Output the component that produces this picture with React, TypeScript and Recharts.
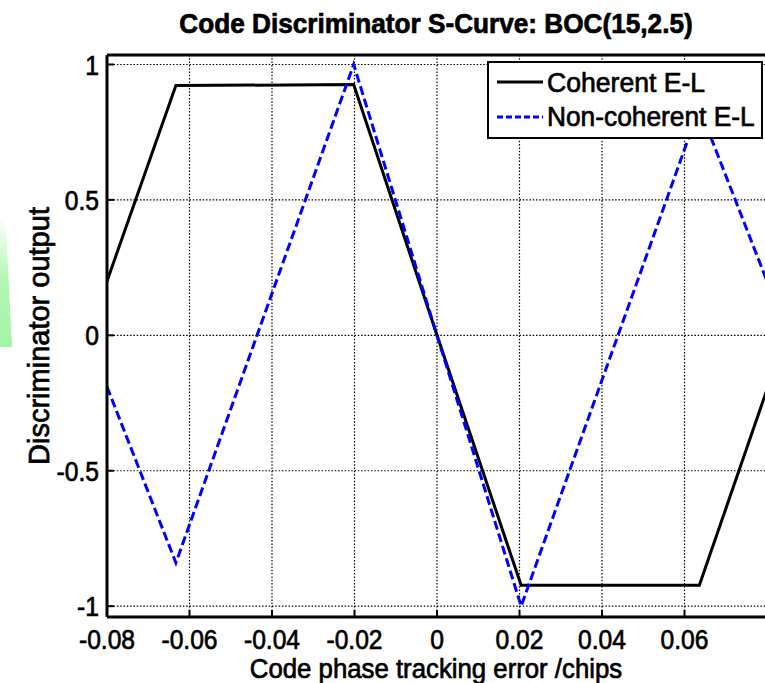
import React from 'react';
import { LineChart, Line, XAxis, YAxis, CartesianGrid } from 'recharts';

// S-curve samples (code phase error in chips -> discriminator output)
const trackingError = [-0.08, -0.0633, -0.0202, 0, 0.0204, 0.0636, 0.08];
const coherentEL = [0.2, 0.922, 0.926, 0, -0.923, -0.923, -0.2];
const nonCoherentEL = [-0.19, -0.84, 1.0, 0, -1.0, 0.84, 0.2];

const xTicks = [-0.08, -0.06, -0.04, -0.02, 0, 0.02, 0.04, 0.06];
const yTicks = [-1, -0.5, 0, 0.5, 1];

const FONT = "'Liberation Sans', Arial, Helvetica, sans-serif";

const data = trackingError.map((x, i) => ({
  x,
  coherent: coherentEL[i],
  nonCoherent: nonCoherentEL[i],
}));

const axisLine = { stroke: '#000', strokeWidth: 3 };
const tickLine = { stroke: '#000', strokeWidth: 2 };

// narrow, heavy text like the exported figure
const textProps = {
  fontFamily: FONT,
  fill: '#000',
  stroke: '#000',
  strokeWidth: 0.7,
};

const XTick = ({ x, y, payload }: any) => (
  <text
    {...textProps}
    fontSize={28}
    textAnchor="middle"
    dy="0.71em"
    transform={`translate(${x},${y}) scale(0.88,1)`}
  >
    {String(payload.value)}
  </text>
);

const YTick = ({ x, y, payload }: any) => (
  <text
    {...textProps}
    fontSize={28}
    textAnchor="end"
    dy="0.36em"
    transform={`translate(${x},${y}) scale(0.88,1)`}
  >
    {String(payload.value)}
  </text>
);

const XLabel = ({ viewBox }: any) => (
  <text
    {...textProps}
    fontSize={27}
    textAnchor="middle"
    transform={`translate(${viewBox.x + viewBox.width / 2 - 1},${viewBox.y + viewBox.height - 5}) scale(0.955,1)`}
  >
    Code phase tracking error /chips
  </text>
);

const YLabel = ({ viewBox }: any) => (
  <text
    {...textProps}
    fontSize={29}
    textAnchor="middle"
    transform={`translate(49,${viewBox.y + viewBox.height / 2}) rotate(-90)`}
  >
    Discriminator output
  </text>
);

const LegendBox: React.FC = () => (
  <svg
    width={277}
    height={79}
    style={{ position: 'absolute', left: 487, top: 61 }}
  >
    <rect x={1} y={1} width={274} height={76} fill="#fff" stroke="#000" strokeWidth={2} />
    <line x1={10} y1={21} x2={56} y2={21} stroke="#000" strokeWidth={3} />
    <text {...textProps} x={0} y={0} fontSize={28} transform="translate(60,31) scale(0.95,1)">
      Coherent E-L
    </text>
    <line x1={10} y1={56} x2={56} y2={56} stroke="#0000ff" strokeWidth={3} strokeDasharray="6 3" />
    <text {...textProps} x={0} y={0} fontSize={28} transform="translate(60,65) scale(0.94,1)">
      Non-coherent E-L
    </text>
  </svg>
);

const App: React.FC = () => {
  return (
    <div
      style={{
        position: 'absolute',
        left: 0,
        top: 0,
        width: 765,
        height: 683,
        overflow: 'hidden',
        background: '#fff',
      }}
    >
      <LineChart
        width={775}
        height={683}
        data={data}
        margin={{ top: 54, right: 7, bottom: 0, left: 0 }}
      >
        <CartesianGrid stroke="#000" strokeWidth={1.2} strokeDasharray="1.5 1.8" />
        <XAxis
          dataKey="x"
          type="number"
          domain={[-0.08, 0.08]}
          ticks={xTicks}
          interval={0}
          height={66}
          tickSize={-7}
          tickMargin={19}
          axisLine={axisLine}
          tickLine={tickLine}
          tick={<XTick />}
          label={<XLabel />}
        />
        <XAxis
          xAxisId="top"
          orientation="top"
          dataKey="x"
          type="number"
          domain={[-0.08, 0.08]}
          ticks={xTicks}
          interval={0}
          height={1}
          tickSize={-7}
          axisLine={axisLine}
          tickLine={tickLine}
          tick={false}
        />
        <YAxis
          type="number"
          domain={[-1.04, 1.035]}
          ticks={yTicks}
          interval={0}
          width={107}
          tickSize={-7}
          tickMargin={15}
          axisLine={axisLine}
          tickLine={tickLine}
          tick={<YTick />}
          label={<YLabel />}
        />
        <YAxis
          yAxisId="right"
          orientation="right"
          type="number"
          domain={[-1.04, 1.035]}
          ticks={yTicks}
          interval={0}
          width={1}
          tickSize={-7}
          axisLine={axisLine}
          tickLine={tickLine}
          tick={false}
        />
        <Line
          dataKey="coherent"
          name="Coherent E-L"
          stroke="#000"
          strokeWidth={3}
          dot={false}
          isAnimationActive={false}
        />
        <Line
          dataKey="nonCoherent"
          name="Non-coherent E-L"
          stroke="#0000ff"
          strokeWidth={3}
          strokeDasharray="9 4"
          dot={false}
          isAnimationActive={false}
        />
      </LineChart>

      <svg width={765} height={48} style={{ position: 'absolute', left: 0, top: 0 }}>
        <text
          {...textProps}
          fontSize={27}
          fontWeight="bold"
          textAnchor="middle"
          transform="translate(436,33) scale(0.97,1)"
        >
          Code Discriminator S-Curve: BOC(15,2.5)
        </text>
      </svg>

      <LegendBox />

      <div
        style={{
          position: 'absolute',
          left: 0,
          top: 215,
          width: 12,
          height: 132,
          background: 'linear-gradient(to bottom, rgba(180,248,180,0), rgba(165,245,165,0.85) 50%, rgba(155,242,155,0.9))',
          clipPath: 'polygon(0 0, 50% 10%, 100% 100%, 0 100%)',
        }}
      />
    </div>
  );
};

export default App;
